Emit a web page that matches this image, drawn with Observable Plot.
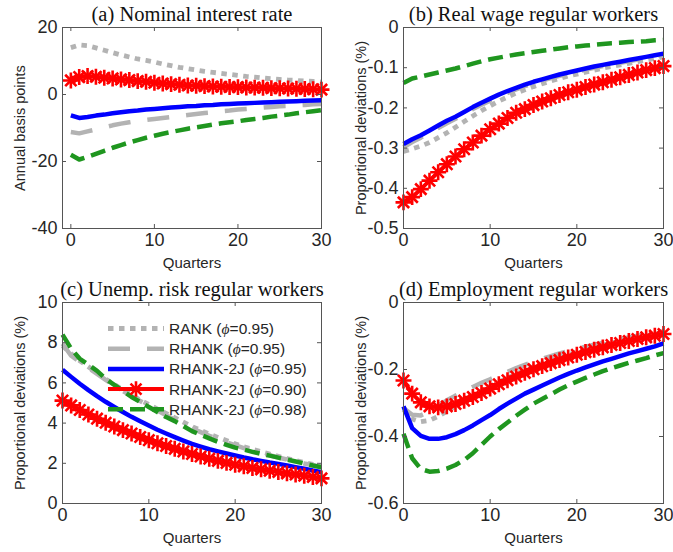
<!DOCTYPE html>
<html>
<head>
<meta charset="utf-8">
<script src="https://cdn.jsdelivr.net/npm/d3@7"></script>
<script src="https://cdn.jsdelivr.net/npm/@observablehq/plot@0.6"></script>
<style>
  html, body { margin: 0; padding: 0; background: #fff; }
  #wrap { position: relative; width: 673px; height: 552px; overflow: hidden; background: #fff; }
  #wrap > svg, #wrap > figure { position: absolute; margin: 0; }
</style>
</head>
<body>
<div id="wrap"></div>
<script>
// ---------------- data ----------------
const quarters = [0,1,2,3,4,5,6,7,8,9,10,11,12,13,14,15,16,17,18,19,20,21,22,23,24,25,26,27,28,29,30];
const seriesNames = ["RANK (ϕ=0.95)", "RHANK (ϕ=0.95)", "RHANK-2J (ϕ=0.95)", "RHANK-2J (ϕ=0.90)", "RHANK-2J (ϕ=0.98)"];

const titles = ["(a) Nominal interest rate", "(b) Real wage regular workers", "(c) Unemp. risk regular workers", "(d) Employment regular workers"];
const yLabels = ["Annual basis points", "Proportional deviations (%)", "Proportional deviations (%)", "Proportional deviations (%)"];
const xLabel = "Quarters";
const xTicks = [0, 10, 20, 30];
const yTicksA = [-40, -20, 0, 20];
const yTicksB = [-0.5, -0.4, -0.3, -0.2, -0.1, 0];
const yTicksC = [0, 2, 4, 6, 8, 10];
const yTicksD = [-0.6, -0.4, -0.2, 0];

// (a) Nominal interest rate
const a_RANK  = [14.0,14.8,14.6,13.9,13.2,12.5,11.8,11.2,10.6,10.2,9.7,9.1,8.6,8.1,7.7,7.3,6.9,6.6,6.3,6.0,5.7,5.4,5.2,4.9,4.7,4.5,4.3,4.2,4.0,3.9,3.7];
const a_RHANK = [-11.2,-11.6,-11.0,-10.4,-9.8,-9.2,-8.7,-8.3,-7.9,-7.6,-7.3,-7.0,-6.7,-6.4,-6.1,-5.8,-5.5,-5.3,-5.0,-4.8,-4.5,-4.3,-4.1,-3.9,-3.7,-3.5,-3.4,-3.2,-3.1,-2.9,-2.8];
const a_2J95  = [-6.2,-7.0,-6.7,-6.3,-6.0,-5.6,-5.3,-5.0,-4.8,-4.5,-4.3,-4.1,-3.9,-3.7,-3.5,-3.4,-3.2,-3.1,-2.9,-2.8,-2.7,-2.6,-2.5,-2.4,-2.3,-2.2,-2.1,-2.0,-1.9,-1.8,-1.7];
const a_2J90  = [4.2,5.2,5.5,5.3,5.0,4.8,4.5,4.3,4.0,3.8,3.5,3.3,3.1,2.9,2.7,2.6,2.5,2.4,2.3,2.25,2.2,2.1,2.05,2.0,1.9,1.85,1.8,1.7,1.65,1.55,1.45];
const a_2J98  = [-18.0,-19.4,-18.6,-17.7,-16.8,-15.9,-15.1,-14.3,-13.6,-12.9,-12.3,-11.7,-11.2,-10.7,-10.2,-9.8,-9.4,-9.0,-8.6,-8.3,-8.0,-7.6,-7.3,-7.0,-6.6,-6.3,-6.0,-5.6,-5.3,-5.0,-4.7];

// (b) Real wage regular workers
const b_RANK  = [-0.308,-0.302,-0.295,-0.286,-0.274,-0.262,-0.248,-0.234,-0.220,-0.207,-0.195,-0.183,-0.173,-0.163,-0.155,-0.147,-0.140,-0.133,-0.127,-0.121,-0.116,-0.111,-0.106,-0.101,-0.097,-0.093,-0.089,-0.085,-0.081,-0.077,-0.073];
const b_RHANK = [-0.298,-0.285,-0.274,-0.262,-0.250,-0.238,-0.227,-0.215,-0.203,-0.192,-0.182,-0.172,-0.163,-0.154,-0.146,-0.139,-0.132,-0.126,-0.120,-0.115,-0.110,-0.105,-0.100,-0.096,-0.092,-0.088,-0.084,-0.080,-0.076,-0.072,-0.068];
const b_2J95  = [-0.290,-0.278,-0.268,-0.256,-0.244,-0.232,-0.222,-0.210,-0.198,-0.187,-0.177,-0.167,-0.158,-0.150,-0.142,-0.135,-0.129,-0.123,-0.117,-0.112,-0.107,-0.102,-0.097,-0.093,-0.089,-0.085,-0.081,-0.077,-0.073,-0.069,-0.065];
const b_2J90  = [-0.435,-0.422,-0.402,-0.381,-0.360,-0.340,-0.321,-0.303,-0.286,-0.269,-0.253,-0.239,-0.225,-0.212,-0.203,-0.193,-0.184,-0.176,-0.168,-0.161,-0.155,-0.148,-0.142,-0.136,-0.130,-0.124,-0.118,-0.112,-0.106,-0.101,-0.096];
const b_2J98  = [-0.138,-0.127,-0.122,-0.117,-0.112,-0.107,-0.102,-0.096,-0.090,-0.084,-0.079,-0.075,-0.071,-0.067,-0.064,-0.061,-0.058,-0.055,-0.052,-0.049,-0.047,-0.045,-0.043,-0.041,-0.039,-0.038,-0.036,-0.035,-0.034,-0.032,-0.031];

// (c) Unemployment risk regular workers
const c_RANK  = [7.85,7.45,7.1,6.8,6.5,6.2,5.92,5.65,5.4,5.15,4.92,4.7,4.48,4.27,4.05,3.83,3.64,3.46,3.29,3.13,2.97,2.83,2.7,2.58,2.46,2.35,2.24,2.14,2.04,1.95,1.86];
const c_RHANK = [7.95,7.35,7.05,6.75,6.45,6.15,5.87,5.6,5.34,5.1,4.86,4.62,4.39,4.17,3.95,3.74,3.55,3.37,3.2,3.04,2.9,2.76,2.63,2.51,2.4,2.29,2.19,2.09,1.99,1.9,1.81];
const c_2J95  = [6.65,6.30,5.96,5.64,5.34,5.06,4.80,4.55,4.31,4.09,3.88,3.67,3.48,3.30,3.13,2.97,2.83,2.70,2.59,2.49,2.39,2.29,2.20,2.12,2.04,1.97,1.89,1.81,1.73,1.64,1.56];
const c_2J90  = [5.12,4.88,4.65,4.43,4.22,4.02,3.83,3.65,3.48,3.31,3.15,3.0,2.86,2.72,2.59,2.46,2.34,2.23,2.12,2.02,1.93,1.85,1.77,1.70,1.63,1.57,1.50,1.44,1.38,1.32,1.25];
const c_2J98  = [8.4,7.7,7.2,6.9,6.6,6.2,5.9,5.6,5.3,5.05,4.8,4.55,4.3,4.1,3.85,3.6,3.42,3.24,3.07,2.92,2.78,2.68,2.57,2.47,2.38,2.28,2.19,2.09,1.99,1.89,1.80];

// (d) Employment regular workers
const d_RANK  = [-0.320,-0.348,-0.356,-0.352,-0.340,-0.325,-0.309,-0.293,-0.278,-0.264,-0.250,-0.237,-0.225,-0.213,-0.202,-0.192,-0.182,-0.173,-0.164,-0.156,-0.148,-0.141,-0.134,-0.127,-0.121,-0.115,-0.109,-0.104,-0.099,-0.094,-0.090];
const d_RHANK = [-0.315,-0.335,-0.337,-0.325,-0.308,-0.292,-0.278,-0.265,-0.252,-0.240,-0.229,-0.218,-0.207,-0.196,-0.186,-0.177,-0.168,-0.160,-0.152,-0.145,-0.138,-0.132,-0.126,-0.120,-0.114,-0.109,-0.104,-0.099,-0.094,-0.090,-0.086];
const d_2J95  = [-0.310,-0.375,-0.398,-0.407,-0.407,-0.402,-0.393,-0.381,-0.367,-0.351,-0.336,-0.318,-0.302,-0.287,-0.272,-0.260,-0.248,-0.236,-0.224,-0.213,-0.203,-0.194,-0.185,-0.176,-0.168,-0.160,-0.152,-0.145,-0.138,-0.131,-0.122];
const d_2J90  = [-0.233,-0.272,-0.298,-0.310,-0.313,-0.310,-0.303,-0.293,-0.282,-0.270,-0.257,-0.244,-0.232,-0.221,-0.210,-0.199,-0.190,-0.181,-0.172,-0.164,-0.156,-0.148,-0.141,-0.134,-0.127,-0.121,-0.115,-0.109,-0.104,-0.099,-0.094];
const d_2J98  = [-0.392,-0.465,-0.497,-0.505,-0.503,-0.496,-0.485,-0.470,-0.450,-0.425,-0.400,-0.378,-0.358,-0.338,-0.320,-0.302,-0.288,-0.274,-0.260,-0.247,-0.236,-0.225,-0.215,-0.205,-0.196,-0.188,-0.180,-0.173,-0.166,-0.158,-0.151];

// ---------------- styles ----------------
const GRAY = "#b3b3b3", BLUE = "#0000ff", RED = "#ff0000", GREEN = "#1f961f";
const styles = [
  {stroke: GRAY,  strokeWidth: 4.8, strokeDasharray: "5.5,5.5"},
  {stroke: GRAY,  strokeWidth: 4.5, strokeDasharray: "22,17"},
  {stroke: BLUE,  strokeWidth: 4.5},
  {stroke: RED,   strokeWidth: 4, marker: true},
  {stroke: GREEN, strokeWidth: 4.5, strokeDasharray: "15,7"}
];
const SANS = "'Liberation Sans', Arial, Helvetica, sans-serif";
const SERIF = "'Liberation Serif', 'Times New Roman', serif";
const AXC = "#262626";
const fmt = d => String(d);

const panels = [
  {series: [a_RANK, a_RHANK, a_2J95, a_2J90, a_2J98], yDomain: [-40, 20], yTicks: yTicksA, xDomain: [-1, 30],
   left: 0, top: 0, width: 336, height: 276, ml: 62, mr: 15, mt: 27, mb: 48},
  {series: [b_RANK, b_RHANK, b_2J95, b_2J90, b_2J98], yDomain: [-0.5, 0], yTicks: yTicksB, xDomain: [0, 30],
   left: 336, top: 0, width: 337, height: 276, ml: 67, mr: 10, mt: 27, mb: 48},
  {series: [c_RANK, c_RHANK, c_2J95, c_2J90, c_2J98], yDomain: [0, 10], yTicks: yTicksC, xDomain: [0, 30],
   left: 0, top: 276, width: 336, height: 276, ml: 62, mr: 15, mt: 26, mb: 49},
  {series: [d_RANK, d_RHANK, d_2J95, d_2J90, d_2J98], yDomain: [-0.6, 0], yTicks: yTicksD, xDomain: [0, 30],
   left: 336, top: 276, width: 337, height: 276, ml: 67, mr: 10, mt: 26, mb: 49}
];

const wrap = document.getElementById("wrap");

panels.forEach((p, pi) => {
  const fw = p.width - p.ml - p.mr;
  const fh = p.height - p.mt - p.mb;
  const marks = [];
  // series
  p.series.forEach((arr, si) => {
    const rows = quarters.map((q, i) => ({q, v: arr[i]}));
    const st = styles[si];
    const opts = {x: "q", y: "v", stroke: st.stroke, strokeWidth: st.strokeWidth,
                  strokeLinecap: "butt", strokeLinejoin: "round"};
    if (st.strokeDasharray) opts.strokeDasharray = st.strokeDasharray;
    marks.push(Plot.line(rows, opts));
    if (st.marker) {
      marks.push(Plot.dot(rows, {x: "q", y: "v", symbol: "plus", r: 5.2, stroke: st.stroke, strokeWidth: 2.6, fill: "none"}));
      marks.push(Plot.dot(rows, {x: "q", y: "v", symbol: "times", r: 5.2, stroke: st.stroke, strokeWidth: 2.6, fill: "none"}));
    }
  });
  // frame and inward ticks (all four sides)
  marks.push(Plot.frame({stroke: "#555", strokeWidth: 1}));
  marks.push(Plot.tickX(xTicks, {x: d => d, insetTop: fh - 4, stroke: "#555", strokeWidth: 1}));
  marks.push(Plot.tickX(xTicks, {x: d => d, insetBottom: fh - 4, stroke: "#555", strokeWidth: 1}));
  marks.push(Plot.tickY(p.yTicks, {y: d => d, insetRight: fw - 4, stroke: "#555", strokeWidth: 1}));
  marks.push(Plot.tickY(p.yTicks, {y: d => d, insetLeft: fw - 4, stroke: "#555", strokeWidth: 1}));
  // axes (labels only)
  marks.push(Plot.axisX({ticks: xTicks, tickSize: 0, tickPadding: 5, tickFormat: fmt, label: null, fontSize: 18, fill: AXC}));
  marks.push(Plot.axisY({ticks: p.yTicks, tickSize: 0, tickPadding: 5, tickFormat: fmt, label: null, fontSize: 18, fill: AXC}));
  // axis titles
  marks.push(Plot.text([xLabel], {text: d => d, frameAnchor: "bottom", dy: 29, lineAnchor: "top", fontSize: 15, fill: AXC}));
  marks.push(Plot.text([yLabels[pi]], {text: d => d, frameAnchor: "left", rotate: -90, dx: -42,
    textAnchor: "middle", lineAnchor: "middle", fontSize: 14.5, fill: AXC}));
  // panel title
  marks.push(Plot.text([titles[pi]], {text: d => d, frameAnchor: "top", dy: -13, lineAnchor: "middle",
    textAnchor: "middle", fontSize: 20.5, fontFamily: SERIF, fill: "#111"}));

  const chart = Plot.plot({
    width: p.width, height: p.height,
    marginLeft: p.ml, marginRight: p.mr, marginTop: p.mt, marginBottom: p.mb,
    x: {domain: p.xDomain, axis: null},
    y: {domain: p.yDomain, axis: null},
    style: {fontFamily: SANS, background: "transparent", overflow: "visible"},
    marks
  });
  chart.style.position = "absolute";
  chart.style.left = p.left + "px";
  chart.style.top = p.top + "px";
  chart.style.overflow = "visible";
  wrap.appendChild(chart);
});

// ---------------- legend (panel c, no box) ----------------
const leg = d3.select(wrap).append("svg")
  .attr("width", 673).attr("height", 552)
  .style("position", "absolute").style("left", "0px").style("top", "0px")
  .style("pointer-events", "none");
const legX0 = 108, legX1 = 164, legTextX = 169, legY0 = 328.5, legDY = 20.2;
seriesNames.forEach((name, i) => {
  const y = legY0 + i * legDY;
  const st = styles[i];
  leg.append("line").attr("x1", legX0).attr("x2", legX1).attr("y1", y).attr("y2", y)
    .attr("stroke", st.stroke).attr("stroke-width", st.strokeWidth)
    .attr("stroke-dasharray", st.strokeDasharray || null).attr("stroke-linecap", "butt");
  if (st.marker) {
    const cx = (legX0 + legX1) / 2;
    leg.append("path").attr("transform", `translate(${cx},${y})`)
      .attr("d", d3.symbol(d3.symbolPlus, 80)()).attr("stroke", st.stroke).attr("stroke-width", 2.6).attr("fill", "none");
    leg.append("path").attr("transform", `translate(${cx},${y})`)
      .attr("d", d3.symbol(d3.symbolTimes, 80)()).attr("stroke", st.stroke).attr("stroke-width", 2.6).attr("fill", "none");
  }
  const parts = name.split("ϕ");
  const t = leg.append("text").attr("x", legTextX).attr("y", y).attr("dy", "0.35em")
    .attr("font-family", SANS).attr("font-size", 15.5).attr("fill", AXC);
  t.append("tspan").text(parts[0]);
  t.append("tspan").attr("font-style", "italic").attr("font-family", SERIF).text("ϕ");
  t.append("tspan").text(parts[1]);
});
</script>
</body>
</html>
